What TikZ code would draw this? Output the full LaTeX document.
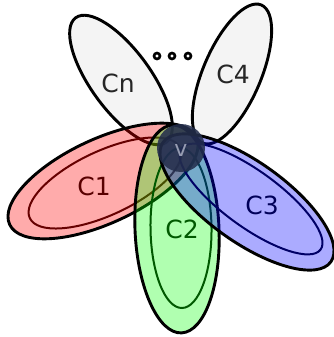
\documentclass[tikz,border=0pt]{standalone}
\usepackage{fontspec}
\setmainfont{DejaVu Sans}
\definecolor{petalgray}{RGB}{244,244,244}
\definecolor{vdark}{RGB}{36,46,76}
\definecolor{vtext}{RGB}{150,156,178}
\begin{document}
\begin{tikzpicture}[x=1pt,y=-1pt,
  outer/.style={line width=2.9pt, draw=black},
  innerloop/.style={line width=2pt},
  lbl/.style={font=\fontsize{25}{25}\selectfont, inner sep=0pt},
  ringdot/.style={circle, draw=black, fill=white, line width=2.6pt, minimum size=6pt, inner sep=0pt}]
\useasboundingbox (0,0) rectangle (333,337);
% grey petals
\draw[outer, fill=petalgray, rotate around={-54:(121,80)}] (121,80) ellipse [x radius=77pt, y radius=30pt];
\draw[outer, fill=petalgray, rotate around={67:(232,74)}] (232,74) ellipse [x radius=75pt, y radius=29pt];
% C1
\fill[red, fill opacity=0.33, rotate around={25:(103,181)}] (103,181) ellipse [x radius=103pt, y radius=42pt];
\draw[innerloop, draw=red!40!black, rotate around={25:(105,183)}] (105,183) ellipse [x radius=83pt, y radius=32pt];
\draw[outer, rotate around={25:(103,181)}] (103,181) ellipse [x radius=103pt, y radius=42pt];
% C2
\fill[green, fill opacity=0.31, rotate around={92.5:(177,229)}] (177,229) ellipse [x radius=104pt, y radius=42pt];
\draw[innerloop, draw=green!35!black, rotate around={90.7:(181,228)}] (181,228) ellipse [x radius=80pt, y radius=30.5pt];
\draw[outer, rotate around={92.5:(177,229)}] (177,229) ellipse [x radius=104pt, y radius=42pt];
% C3
\fill[blue, fill opacity=0.33, rotate around={-35.5:(247,202)}] (247,202) ellipse [x radius=103pt, y radius=40pt];
\draw[innerloop, draw=blue!40!black, rotate around={-36:(251,199)}] (251,199) ellipse [x radius=86pt, y radius=28pt];
\draw[outer, rotate around={-35.5:(247,202)}] (247,202) ellipse [x radius=103pt, y radius=40pt];
% vertex v
\fill[vdark, fill opacity=0.88] (181,148) circle [radius=24pt];
% labels
\node[lbl, text=black!85] (lcn) at (118,83) {Cn};
\node[lbl, text=black!85] (lc4) at (233,74) {C4};
\node[lbl, text=red!35!black] (lc1) at (94,186) {C1};
\node[lbl, text=green!35!black] (lc2) at (182,229) {C2};
\node[lbl, text=blue!35!black] (lc3) at (262,205) {C3};
\node[lbl, text=vtext, font=\fontsize{22}{22}\selectfont] (lv) at (181,150) {v};
% dots
\node[ringdot] (d1) at (157,56) {};
\node[ringdot] (d2) at (172,56) {};
\node[ringdot] (d3) at (188,56) {};
\end{tikzpicture}
\end{document}
